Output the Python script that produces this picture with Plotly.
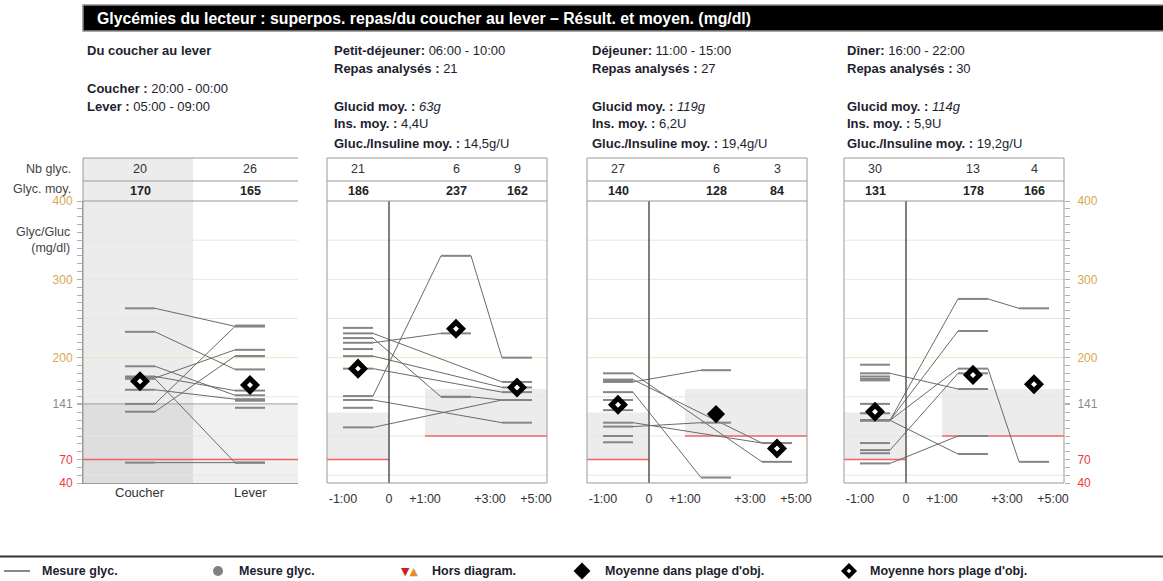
import plotly.graph_objects as go

W, H = 1163, 581

# ---------------- data ----------------
title_text = "Glycémies du lecteur : superpos. repas/du coucher au lever – Résult. et moyen. (mg/dl)"
meal_names = ["Petit-déjeuner", "Déjeuner", "Dîner"]
meal_hours = ["06:00 - 10:00", "11:00 - 15:00", "16:00 - 22:00"]
meals_analysed = [21, 27, 30]
carbs_mean = ["63g", "119g", "114g"]
insulin_mean = ["4,4U", "6,2U", "5,9U"]
ratio_mean = ["14,5g/U", "19,4g/U", "19,2g/U"]

night_title = "Du coucher au lever"
night_labels = ["Coucher", "Lever"]
night_hours = ["20:00 - 00:00", "05:00 - 09:00"]
night_counts = [20, 26]
night_means = [170, 165]

meal_tick_labels = ["-1:00", "0", "+1:00", "+3:00", "+5:00"]
meal_counts = [[21, 6, 9], [27, 6, 3], [30, 13, 4]]
meal_means = [[186, 237, 162], [140, 128, 84], [131, 178, 166]]

night_target = (70, 141)
pre_target = (70, 130)
post_target = (100, 160)

y_ticks = [40, 70, 141, 200, 300, 400]
grid_vals = [50, 100, 150, 250, 300, 350]

night_tracks = [
    [("coucher", 263), ("lever", 240)],
    [("coucher", 233), ("lever", 185)],
    [("coucher", 189), ("lever", 152)],
    [("coucher", 176), ("lever", 158)],
    [("coucher", 173), ("lever", 66)],
    [("coucher", 174), ("lever", 210)],
    [("coucher", 159), ("lever", 147)],
    [("coucher", 141), ("lever", 240)],
    [("coucher", 131), ("lever", 202)],
    [("coucher", 66), ("lever", 66)],
    [("lever", 241)], [("lever", 202)], [("lever", 145)], [("lever", 136)],
]

bf_tracks = [
    [("pre", 151), ("p1", 330), ("p2", 200)],
    [("pre", 219), ("p1", 231)],
    [("pre", 231), ("p2", 169)],
    [("pre", 225), ("p1", 150)],
    [("pre", 186), ("p2", 156)],
    [("pre", 202), ("p2", 162)],
    [("pre", 146), ("p2", 117)],
    [("pre", 111), ("p2", 146)],
    [("p1", 150), ("p2", 146)],
    [("pre", 238)], [("pre", 211)], [("pre", 136)],
]

lu_tracks = [
    [("pre", 180), ("p2", 67)],
    [("pre", 172), ("p2", 91)],
    [("pre", 169), ("p1", 184)],
    [("pre", 156), ("p1", 47)],
    [("pre", 112), ("p1", 117)],
    [("pre", 117), ("p2", 91)],
    [("pre", 146)], [("pre", 133)], [("pre", 100)], [("pre", 92)], [("pre", 171)],
]

di_tracks = [
    [("pre", 120), ("p1", 275), ("p2", 263)],
    [("pre", 120), ("p1", 234)],
    [("pre", 120), ("p1", 186), ("p2", 67)],
    [("pre", 82), ("p1", 180)],
    [("pre", 180), ("p1", 160)],
    [("pre", 120), ("p1", 77)],
    [("pre", 65), ("p1", 100)],
    [("pre", 191)], [("pre", 176)], [("pre", 173)], [("pre", 171)],
    [("pre", 141)], [("pre", 129)], [("pre", 91)], [("pre", 78)],
]

# ---------------- layout constants ----------------
FONT = "Liberation Sans, Arial, sans-serif"
GOLD, GREY_T, RED = "#d8a94f", "#8a8a8a", "#ee3b3b"
tick_colors = {40: RED, 70: RED, 141: GREY_T, 200: GOLD, 300: GOLD, 400: GOLD}
RED_LINE = "#f06464"

NIGHT_SLOTS = {"coucher": 57, "lever": 167}
MEAL_SLOTS = {"pre": 31, "p1": 129, "p2": 190}
MEAL_TICKS = [16, 62, 98, 163, 209]
ZERO_X, POST_X = 62, 98
HW = 15

panels = [(83, 298, 215), (327, 547, 220), (587, 807, 220), (844, 1064, 220)]
PLOT_TOP, PLOT_BOT, HEAD_TOP, HEAD_MID = 201, 483, 158, 181


def fx(p):
    return p / W


def fy(p):
    return 1 - p / H


def build(tracks, slots):
    sx, sy, cx, cy = [], [], [], []
    for tr in tracks:
        pts = []
        for slot, v in tr:
            c = slots[slot]
            sx += [c - HW, c + HW, None]
            sy += [v, v, None]
            pts.append((c, v))
        for (c0, v0), (c1, v1) in zip(pts, pts[1:]):
            cx += [c0 + HW, c1 - HW, None]
            cy += [v0, v1, None]
    return sx, sy, cx, cy


fig = go.Figure()
shapes, annos = [], []


def ax(i):
    return ("x", "y") if i == 0 else (f"x{i+1}", f"y{i+1}")


# target lower-limit lines (red) as traces
red_x = [[0, 215]] + [[0, ZERO_X, None, POST_X, 220]] * 3
red_y = [[night_target[0]] * 2] + [[pre_target[0], pre_target[0], None,
                                     post_target[0], post_target[0]]] * 3
for i in range(4):
    xa, ya = ax(i)
    fig.add_trace(go.Scatter(x=red_x[i], y=red_y[i], mode="lines", xaxis=xa, yaxis=ya,
                             line=dict(color=RED_LINE, width=1.3), hoverinfo="skip"))

all_tracks = [(night_tracks, NIGHT_SLOTS), (bf_tracks, MEAL_SLOTS),
              (lu_tracks, MEAL_SLOTS), (di_tracks, MEAL_SLOTS)]

for i, (tracks, slots) in enumerate(all_tracks):
    xa, ya = ax(i)
    sx, sy, cx, cy = build(tracks, slots)
    fig.add_trace(go.Scatter(x=cx, y=cy, mode="lines", xaxis=xa, yaxis=ya,
                             line=dict(color="#6a6a6a", width=1), hoverinfo="skip"))
    fig.add_trace(go.Scatter(x=sx, y=sy, mode="lines", xaxis=xa, yaxis=ya,
                             line=dict(color="#858585", width=2), hoverinfo="skip"))


def add_means(i, xs, means, targets):
    xa, ya = ax(i)
    for x, m, (lo, hi) in zip(xs, means, targets):
        if lo <= m <= hi:
            mk = dict(symbol="diamond", size=14, color="black", line=dict(width=0))
        else:
            mk = dict(symbol="diamond", size=10, color="white", line=dict(color="black", width=5))
        fig.add_trace(go.Scatter(x=[x], y=[m], mode="markers", xaxis=xa, yaxis=ya,
                                 marker=mk, hoverinfo="skip"))


add_means(0, [NIGHT_SLOTS["coucher"], NIGHT_SLOTS["lever"]], night_means,
          [night_target, night_target])
for k in range(3):
    add_means(k + 1, [MEAL_SLOTS["pre"], MEAL_SLOTS["p1"], MEAL_SLOTS["p2"]],
              meal_means[k], [pre_target, post_target, post_target])

# ---------------- background shapes ----------------
ZONE = "#ececec"
shapes.append(dict(type="rect", xref="x", yref="y", x0=0, x1=110, y0=40, y1=400,
                   fillcolor="rgba(0,0,0,0.075)", line_width=0, layer="below"))
shapes.append(dict(type="rect", xref="paper", yref="paper", x0=fx(83), x1=fx(193),
                   y0=fy(PLOT_TOP), y1=fy(HEAD_TOP), fillcolor="rgba(0,0,0,0.075)",
                   line_width=0, layer="below"))
shapes.append(dict(type="rect", xref="x", yref="y", x0=0, x1=215, y0=40, y1=night_target[1],
                   fillcolor="rgba(0,0,0,0.06)", line_width=0, layer="below"))
for i in range(1, 4):
    xa, ya = ax(i)
    shapes.append(dict(type="rect", xref=xa, yref=ya, x0=0, x1=ZERO_X, y0=pre_target[0],
                       y1=pre_target[1], fillcolor=ZONE, line_width=0, layer="below"))
    shapes.append(dict(type="rect", xref=xa, yref=ya, x0=POST_X, x1=220, y0=post_target[0],
                       y1=post_target[1], fillcolor=ZONE, line_width=0, layer="below"))

for i, (l, r, wdt) in enumerate(panels):
    xa, ya = ax(i)
    for g in grid_vals:
        shapes.append(dict(type="line", xref=xa, yref=ya, x0=0, x1=wdt, y0=g, y1=g,
                           line=dict(color="#e6e6e6", width=1), layer="below"))
    shapes.append(dict(type="line", xref=xa, yref=ya, x0=0, x1=wdt, y0=200, y1=200,
                       line=dict(color="#efe7bf", width=1), layer="below"))

shapes.append(dict(type="line", xref="x", yref="y", x0=0, x1=215, y0=141, y1=141,
                   line=dict(color="#a0a0a0", width=1), layer="below"))
for i in range(1, 4):
    xa, ya = ax(i)
    shapes.append(dict(type="line", xref=xa, yref=ya, x0=ZERO_X, x1=ZERO_X, y0=40, y1=400,
                       line=dict(color="#555555", width=1.5), layer="above"))

FRAME = "#9a9a9a"
for i, (l, r, wdt) in enumerate(panels):
    if i == 0:
        for yy in (HEAD_TOP, HEAD_MID, PLOT_TOP):
            shapes.append(dict(type="line", xref="paper", yref="paper", x0=fx(l), x1=fx(r),
                               y0=fy(yy), y1=fy(yy), line=dict(color=FRAME, width=1)))
        shapes.append(dict(type="line", xref="paper", yref="paper", x0=fx(l), x1=fx(l),
                           y0=fy(HEAD_TOP), y1=fy(PLOT_BOT), line=dict(color=FRAME, width=1)))
    else:
        shapes.append(dict(type="rect", xref="paper", yref="paper", x0=fx(l), x1=fx(r),
                           y0=fy(PLOT_BOT), y1=fy(HEAD_TOP), line=dict(color=FRAME, width=1)))
        for yy in (HEAD_MID, PLOT_TOP):
            shapes.append(dict(type="line", xref="paper", yref="paper", x0=fx(l), x1=fx(r),
                               y0=fy(yy), y1=fy(yy), line=dict(color=FRAME, width=1)))

LBL = dict(family=FONT, size=12.5, color="#444")
annos.append(dict(xref="paper", yref="paper", x=fx(73), y=fy(169), text="Nb glyc.",
                  xanchor="right", yanchor="middle", showarrow=False, font=LBL))
annos.append(dict(xref="paper", yref="paper", x=fx(73), y=fy(189), text="Glyc. moy.",
                  xanchor="right", yanchor="middle", showarrow=False, font=LBL))
annos.append(dict(xref="paper", yref="paper", x=fx(72), y=fy(240),
                  text="Glyc/Gluc<br>(mg/dl)", xanchor="right", yanchor="middle",
                  align="right", showarrow=False, font=LBL))

for slot, lab in zip(["coucher", "lever"], night_labels):
    annos.append(dict(xref="x", yref="paper", x=NIGHT_SLOTS[slot], y=fy(492), text=lab,
                      showarrow=False, yanchor="middle",
                      font=dict(family=FONT, size=13, color="#333")))


def header_vals(i, xs, counts, means):
    xa, _ = ax(i)
    for x, c, m in zip(xs, counts, means):
        annos.append(dict(xref=xa, yref="paper", x=x, y=fy(169), text=str(c),
                          showarrow=False, yanchor="middle",
                          font=dict(family=FONT, size=12.5, color="#333")))
        annos.append(dict(xref=xa, yref="paper", x=x, y=fy(191), text=f"<b>{m}</b>",
                          showarrow=False, yanchor="middle",
                          font=dict(family=FONT, size=12.5, color="#222")))


header_vals(0, [NIGHT_SLOTS["coucher"], NIGHT_SLOTS["lever"]], night_counts, night_means)
for k in range(3):
    header_vals(k + 1, [MEAL_SLOTS["pre"], MEAL_SLOTS["p1"], MEAL_SLOTS["p2"]],
                meal_counts[k], meal_means[k])

shapes.append(dict(type="rect", xref="paper", yref="paper", x0=fx(83), x1=fx(1170),
                   y0=fy(31), y1=fy(5), fillcolor="black", line=dict(color="#8c8c8c", width=1.5)))
annos.append(dict(xref="paper", yref="paper", x=fx(95), y=fy(18.5), text=f"<b>{title_text}</b>",
                  xanchor="left", yanchor="middle", showarrow=False,
                  font=dict(family=FONT, size=15.8, color="white")))

TXT = dict(family=FONT, size=13, color="#1e1e2e")


def info(x, y, text):
    annos.append(dict(xref="paper", yref="paper", x=fx(x), y=fy(y), text=text,
                      xanchor="left", yanchor="middle", showarrow=False, font=TXT))


info(85, 50, f"<b>{night_title}</b>")
info(85, 88, f"<b>{night_labels[0]} :</b> {night_hours[0]}")
info(85, 106, f"<b>{night_labels[1]} :</b> {night_hours[1]}")
for k, x in enumerate([332, 590, 845]):
    info(x, 50, f"<b>{meal_names[k]}:</b> {meal_hours[k]}")
    info(x, 69, f"<b>Repas analysés :</b> {meals_analysed[k]}")
    info(x, 106, f"<b>Glucid moy. :</b> <i>{carbs_mean[k]}</i>")
    info(x, 124, f"<b>Ins. moy. :</b> {insulin_mean[k]}")
    info(x, 143, f"<b>Gluc./Insuline moy. :</b> {ratio_mean[k]}")

shapes.append(dict(type="line", xref="paper", yref="paper", x0=0, x1=1, y0=fy(556.5), y1=fy(556.5),
                   line=dict(color="#333", width=2)))
shapes.append(dict(type="line", xref="paper", yref="paper", x0=fx(4), x1=fx(30), y0=fy(571), y1=fy(571),
                   line=dict(color="#888", width=2)))
shapes.append(dict(type="circle", xref="paper", yref="paper", x0=fx(213), x1=fx(223),
                   y0=fy(576), y1=fy(566), fillcolor="#808080", line_width=0))
LEG = dict(family=FONT, size=12.5, color="#1e1e2e")
for x, t in [(40, "Mesure glyc."), (237, "Mesure glyc."), (430, "Hors diagram."),
             (603, "Moyenne dans plage d'obj."), (868, "Moyenne hors plage d'obj.")]:
    annos.append(dict(xref="paper", yref="paper", x=fx(x), y=fy(571), text=f"<b>{t}</b>",
                      xanchor="left", yanchor="middle", showarrow=False, font=LEG))
annos.append(dict(xref="paper", yref="paper", x=fx(409), y=fy(571),
                  text="<span style='color:#cc1f1f'>▼</span><span style='color:#e0902a'>▲</span>",
                  xanchor="center", yanchor="middle", showarrow=False,
                  font=dict(family="DejaVu Sans", size=11)))
fig.add_trace(go.Scatter(x=[582], y=[571], mode="markers", xaxis="x5", yaxis="y5",
                         marker=dict(symbol="diamond", size=13, color="black"), hoverinfo="skip"))
fig.add_trace(go.Scatter(x=[849], y=[571], mode="markers", xaxis="x5", yaxis="y5",
                         marker=dict(symbol="diamond", size=8, color="white",
                                     line=dict(color="black", width=4)), hoverinfo="skip"))

# ---------------- axes ----------------
ydom = [fy(PLOT_BOT), fy(PLOT_TOP)]
tick_text = [f"<span style='color:{tick_colors[v]}'>{v}</span>" for v in y_ticks]
minor = dict(dtick=10, tick0=0, ticks="outside", ticklen=5, tickcolor="#b0b0b0", showgrid=False)

layout = dict(width=W, height=H, autosize=False,
              margin=dict(l=0, r=0, t=0, b=0, pad=0, autoexpand=False),
              paper_bgcolor="white", plot_bgcolor="rgba(0,0,0,0)", showlegend=False,
              shapes=shapes, annotations=annos)

for i, (l, r, wdt) in enumerate(panels):
    sfx = "" if i == 0 else str(i + 1)
    xax = dict(domain=[fx(l), fx(r)], range=[0, wdt], showgrid=False, zeroline=False,
               showline=(i == 0), linecolor=FRAME, anchor="y" + sfx, fixedrange=True,
               automargin=False, tickfont=dict(family=FONT, size=12.5, color="#333"))
    if i == 0:
        xax.update(showticklabels=False, ticks="")
    else:
        xax.update(tickmode="array", tickvals=MEAL_TICKS, ticktext=meal_tick_labels,
                   ticks="", ticklabelstandoff=6)
    yax = dict(domain=ydom, range=[40, 400], showgrid=False, zeroline=False,
               anchor="x" + sfx, fixedrange=True, automargin=False)
    if i == 0:
        yax.update(showline=True, linecolor=FRAME, ticks="outside", ticklen=5,
                   tickcolor="#b0b0b0", tickmode="array", tickvals=y_ticks, ticktext=tick_text,
                   minor=minor, tickfont=dict(family=FONT, size=12), ticklabelstandoff=2)
    elif i == 3:
        yax.update(side="right", showline=False, ticks="outside", ticklen=5,
                   tickcolor="#b0b0b0", tickmode="array", tickvals=y_ticks, ticktext=tick_text,
                   minor=minor, tickfont=dict(family=FONT, size=12), ticklabelstandoff=5)
    else:
        yax.update(showticklabels=False, ticks="")
    layout["xaxis" + sfx] = xax
    layout["yaxis" + sfx] = yax

layout["xaxis5"] = dict(domain=[0, 1], range=[0, W], visible=False, anchor="y5",
                        fixedrange=True, automargin=False)
layout["yaxis5"] = dict(domain=[0, 1], range=[H, 0], visible=False, anchor="x5",
                        fixedrange=True, automargin=False)

fig.update_layout(**layout)
fig.write_html("out.html", config={"displayModeBar": False},
               post_script="document.body.style.margin='0';document.body.style.overflow='hidden';")
